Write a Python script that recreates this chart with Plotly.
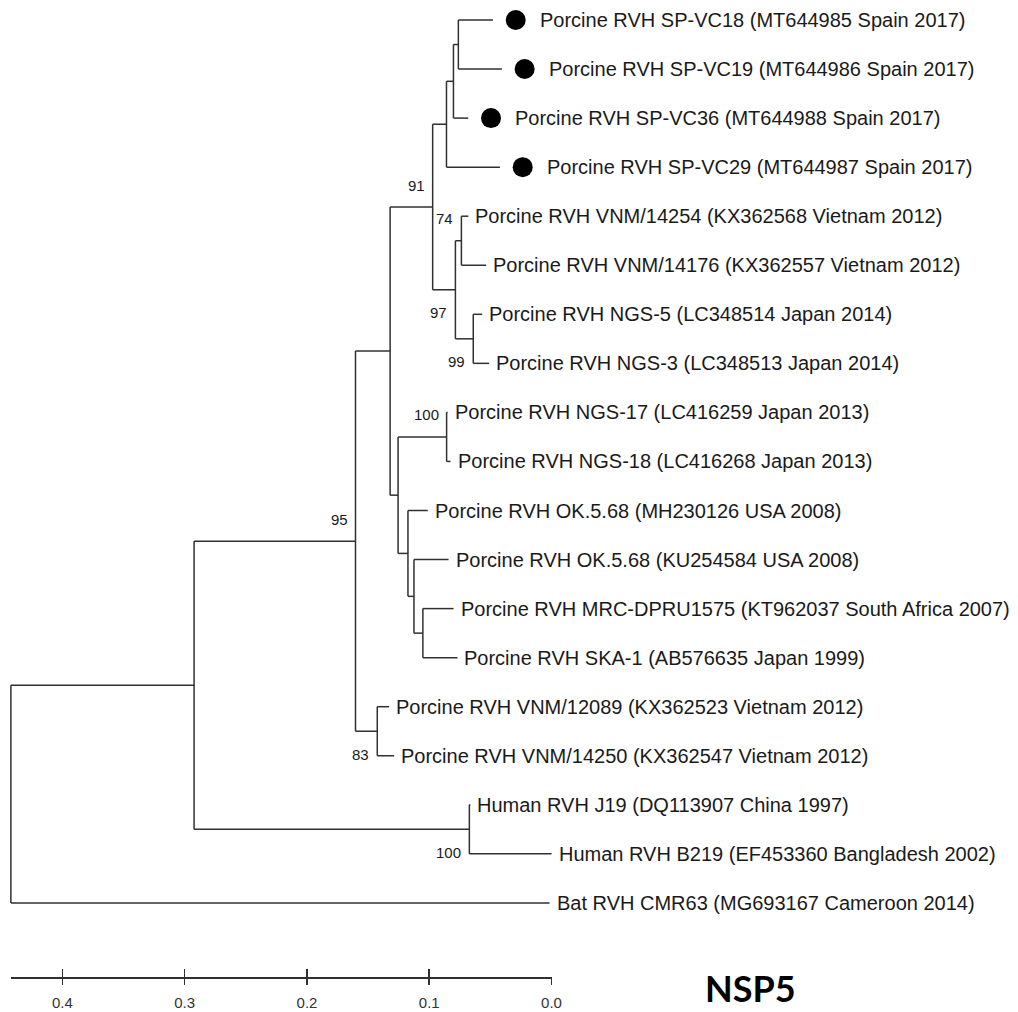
import plotly.graph_objects as go

# ---------------- data ----------------
node_name = [
    "root", "A", "N95", "N395", "N91", "NVC3", "NVC2", "NVC1",
    "Porcine RVH SP-VC18 (MT644985 Spain 2017)",
    "Porcine RVH SP-VC19 (MT644986 Spain 2017)",
    "Porcine RVH SP-VC36 (MT644988 Spain 2017)",
    "Porcine RVH SP-VC29 (MT644987 Spain 2017)",
    "N97", "N74",
    "Porcine RVH VNM/14254 (KX362568 Vietnam 2012)",
    "Porcine RVH VNM/14176 (KX362557 Vietnam 2012)",
    "N99",
    "Porcine RVH NGS-5 (LC348514 Japan 2014)",
    "Porcine RVH NGS-3 (LC348513 Japan 2014)",
    "N402", "N100a",
    "Porcine RVH NGS-17 (LC416259 Japan 2013)",
    "Porcine RVH NGS-18 (LC416268 Japan 2013)",
    "N411",
    "Porcine RVH OK.5.68 (MH230126 USA 2008)",
    "N418",
    "Porcine RVH OK.5.68 (KU254584 USA 2008)",
    "N427",
    "Porcine RVH MRC-DPRU1575 (KT962037 South Africa 2007)",
    "Porcine RVH SKA-1 (AB576635 Japan 1999)",
    "N83",
    "Porcine RVH VNM/12089 (KX362523 Vietnam 2012)",
    "Porcine RVH VNM/14250 (KX362547 Vietnam 2012)",
    "Nhum",
    "Human RVH J19 (DQ113907 China 1997)",
    "Human RVH B219 (EF453360 Bangladesh 2002)",
    "Bat RVH CMR63 (MG693167 Cameroon 2014)",
]
node_parent = [-1, 0, 1, 2, 3, 4, 5, 6, 7, 7, 6, 5, 4, 12, 13, 13, 12, 16, 16,
               3, 19, 20, 20, 19, 23, 23, 25, 25, 27, 27, 2, 30, 30, 1, 33, 33, 0]
branch_len = [0.0, 0.1498, 0.1320, 0.0283, 0.0348, 0.0113, 0.0057, 0.0040,
              0.0283, 0.0356, 0.0121, 0.0437, 0.0186, 0.0049, 0.0057, 0.0202,
              0.0146, 0.0073, 0.0130, 0.0065, 0.0397, 0.0008, 0.0032, 0.0081,
              0.0162, 0.0049, 0.0283, 0.0073, 0.0251, 0.0283, 0.0178, 0.0097,
              0.0138, 0.2251, 0.0008, 0.0672, 0.4405]
bootstrap = {"N95": 95, "N91": 91, "N97": 97, "N74": 74, "N99": 99,
             "N100a": 100, "N83": 83, "Nhum": 100}
bootstrap_below = {"N97", "N99", "N83", "Nhum"}
marked_tips = {
    "Porcine RVH SP-VC18 (MT644985 Spain 2017)",
    "Porcine RVH SP-VC19 (MT644986 Spain 2017)",
    "Porcine RVH SP-VC36 (MT644988 Spain 2017)",
    "Porcine RVH SP-VC29 (MT644987 Spain 2017)",
}
scale_ticks = [0.4, 0.3, 0.2, 0.1, 0.0]
gene_title = "NSP5"

# ---------------- layout geometry ----------------
W, H = 1018, 1012
PX_PER_UNIT = 1235.0     # pixels per substitution unit
ZERO_PX = 557.0          # x pixel of the 0.0 mark
TIP0_PX, TIP_STEP = 20.0, 49.05
AXIS_Y_PX = 977.0
LINE_COLOR = "#303030"
TEXT_COLOR = "#1a1a1a"

# ---------------- tree geometry ----------------
n = len(node_name)
children = [[] for _ in range(n)]
for i, p in enumerate(node_parent):
    if p >= 0:
        children[p].append(i)
depth = [0.0] * n
for i in range(n):
    if node_parent[i] >= 0:
        depth[i] = depth[node_parent[i]] + branch_len[i]
max_depth = max(depth)
xval = [max_depth - d for d in depth]   # distance-scale value (0 at right)

yval = [0.0] * n
tip_counter = [0]


def place(i):
    if not children[i]:
        yval[i] = tip_counter[0]
        tip_counter[0] += 1
    else:
        for c in children[i]:
            place(c)
        yval[i] = (yval[children[i][0]] + yval[children[i][-1]]) / 2


place(0)

lx, ly = [], []
for i in range(n):
    p = node_parent[i]
    if p >= 0:
        lx += [xval[p], xval[i], None]
        ly += [yval[i], yval[i], None]
    if children[i]:
        lx += [xval[i], xval[i], None]
        ly += [yval[children[i][0]], yval[children[i][-1]], None]

fig = go.Figure()
fig.add_trace(go.Scatter(x=lx, y=ly, mode="lines",
                         line=dict(color=LINE_COLOR, width=1.5),
                         hoverinfo="skip", showlegend=False))

tips = [i for i in range(n) if not children[i]]
dot_off = 23 / PX_PER_UNIT
mk = [i for i in tips if node_name[i] in marked_tips]
fig.add_trace(go.Scatter(x=[xval[i] - dot_off for i in mk], y=[yval[i] for i in mk],
                         mode="markers",
                         marker=dict(symbol="circle", size=20, color="black"),
                         hoverinfo="skip", showlegend=False))

# invisible traces so the distance-scale subplots are created
for xa, ya in (("x2", "y2"), ("x3", "y3")):
    fig.add_trace(go.Scatter(x=scale_ticks, y=[0.5] * len(scale_ticks), xaxis=xa, yaxis=ya,
                             mode="markers", marker=dict(opacity=0, size=1),
                             hoverinfo="skip", showlegend=False))

annotations = []
label_font = dict(family="Liberation Sans, Arial, sans-serif", size=20, color=TEXT_COLOR)
for i in tips:
    shift = 45 if node_name[i] in marked_tips else 5
    annotations.append(dict(x=xval[i], y=yval[i], xref="x", yref="y",
                            text=node_name[i], showarrow=False,
                            xanchor="left", yanchor="middle", xshift=shift,
                            font=label_font))

bs_font = dict(family="Liberation Sans Narrow, Arial Narrow, Liberation Sans, Arial",
               size=15, color=TEXT_COLOR)
tick_font = dict(family="Liberation Sans, Arial, sans-serif", size=15, color="#333333")
for i in range(n):
    nm = node_name[i]
    if nm in bootstrap:
        annotations.append(dict(x=xval[i], y=yval[i], xref="x", yref="y",
                                text=str(bootstrap[nm]), showarrow=False,
                                xanchor="right", yanchor="middle", xshift=-6,
                                yshift=-23 if nm in bootstrap_below else 22,
                                font=bs_font))

annotations.append(dict(x=758 / W, y=1 - 988 / H, xref="paper", yref="paper",
                        text="<b>" + gene_title + "</b>", showarrow=False,
                        xanchor="center", yanchor="middle",
                        font=dict(family="Lato, Open Sans, sans-serif", size=36,
                                  color="black")))

root_px = ZERO_PX - max_depth * PX_PER_UNIT
d_axis = 1 - AXIS_Y_PX / H
scale_dom = [root_px / W, ZERO_PX / W]

fig.update_layout(
    width=W, height=H,
    margin=dict(l=0, r=0, t=0, b=0),
    paper_bgcolor="white", plot_bgcolor="rgba(0,0,0,0)",
    showlegend=False, hovermode=False,
    xaxis=dict(range=[ZERO_PX / PX_PER_UNIT, (ZERO_PX - W) / PX_PER_UNIT],
               domain=[0, 1], visible=False, fixedrange=True),
    yaxis=dict(range=[(H - TIP0_PX) / TIP_STEP, -TIP0_PX / TIP_STEP],
               domain=[0, 1], visible=False, fixedrange=True),
    # scale bar: line, upward tick halves and labels
    xaxis2=dict(domain=scale_dom, range=[max_depth, 0],
                anchor="y2", showline=True, linecolor=LINE_COLOR, linewidth=1.5,
                ticks="inside", ticklen=8, tickwidth=1.5,
                tickcolor=LINE_COLOR, tickvals=scale_ticks,
                ticktext=[f"{v:.1f}" for v in scale_ticks],
                tickfont=tick_font, ticklabelstandoff=11,
                showgrid=False, zeroline=False, fixedrange=True),
    yaxis2=dict(domain=[d_axis, d_axis + 0.02], anchor="x2", visible=False,
                range=[0, 1], fixedrange=True),
    # downward tick halves
    xaxis3=dict(domain=scale_dom, range=[max_depth, 0],
                anchor="y3", showline=False,
                ticks="outside", ticklen=7, tickwidth=1.5,
                tickcolor=LINE_COLOR, tickvals=scale_ticks,
                showticklabels=False,
                showgrid=False, zeroline=False, fixedrange=True),
    yaxis3=dict(domain=[d_axis, d_axis + 0.02], anchor="x3", visible=False,
                range=[0, 1], fixedrange=True),
    annotations=annotations,
)

fig.write_html("out.html", post_script="document.body.style.margin='0px';",
               config={"displayModeBar": False, "staticPlot": True})
